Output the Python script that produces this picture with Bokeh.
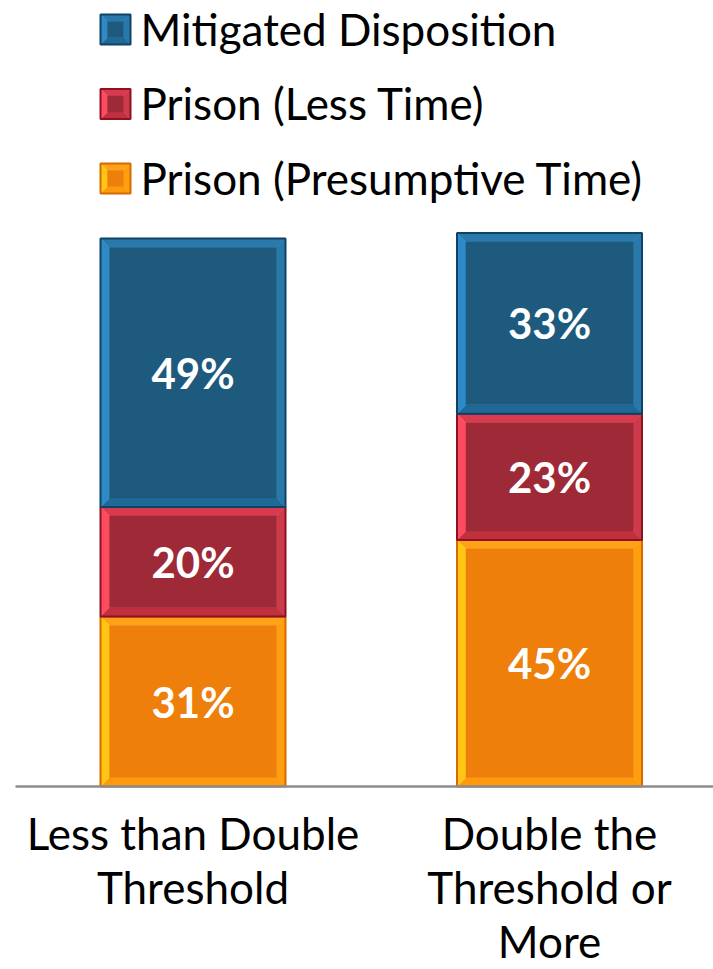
from bokeh.plotting import figure
from bokeh.models import Range1d
from bokeh.core.properties import value
from bokeh.embed import file_html
from bokeh.resources import INLINE

# ---- data -------------------------------------------------------------
categories = ["Less than Double\nThreshold", "Double the\nThreshold or\nMore"]
presumptive = [31, 45]   # Prison (Presumptive Time)
less_time = [20, 23]     # Prison (Less Time)
mitigated = [49, 33]     # Mitigated Disposition

series_names = ["Prison (Presumptive Time)", "Prison (Less Time)", "Mitigated Disposition"]
series_values = [presumptive, less_time, mitigated]   # stacked bottom -> top

# bevelled fill styles per series
styles = {
    "Mitigated Disposition": dict(border="#0f4267", left="#2e8ac6", top="#2a79ac",
                                  right="#2878a9", bottom="#1f6898", face="#1d5a7e"),
    "Prison (Less Time)": dict(border="#8c1222", left="#ff4b5f", top="#d93a4d",
                               right="#cd3a4b", bottom="#c0303f", face="#9e2a37"),
    "Prison (Presumptive Time)": dict(border="#d66a00", left="#ffc614", top="#ffa21a",
                                      right="#ff9f10", bottom="#ff9a0c", face="#ee7f0b"),
}

# ---- layout (canvas pixels) ---------------------------------------------
W, H = 713, 969
BASE_PX = 786              # canvas row of the baseline
PX_PER_PCT = 5.48          # vertical pixels per percentage point
UNIT = 356.5               # pixels between category centres
X0 = 192.5                 # canvas pixel of the first category centre
BAR_PX = 185
INSET_PX = 9
FONT = "Lato"

x_start, x_end = -X0 / UNIT, (W - X0) / UNIT
y_start, y_end = -(H - BASE_PX) / PX_PER_PCT, BASE_PX / PX_PER_PCT


def cx(px):
    return (px - X0) / UNIT


def cy(py):
    return (BASE_PX - py) / PX_PER_PCT


p = figure(width=W, height=H, output_backend="svg", toolbar_location=None,
           x_range=Range1d(x_start, x_end), y_range=Range1d(y_start, y_end),
           min_border=0)
p.outline_line_color = None
p.grid.grid_line_color = None
p.axis.visible = False
p.background_fill_color = "white"
p.border_fill_color = "white"


def bevel_box(l, r, b, t, dx, dy, st):
    pieces = {
        "top": ([l, r, r - dx, l + dx], [t, t, t - dy, t - dy]),
        "right": ([r, r, r - dx, r - dx], [t, b, b + dy, t - dy]),
        "bottom": ([l, r, r - dx, l + dx], [b, b, b + dy, b + dy]),
        "left": ([l, l, l + dx, l + dx], [t, b, b + dy, t - dy]),
    }
    for key, (xs, ys) in pieces.items():
        p.patch(xs, ys, fill_color=st[key], line_color=st[key], line_width=0.5)
    p.quad(left=l + dx, right=r - dx, bottom=b + dy, top=t - dy,
           fill_color=st["face"], line_color=st["face"], line_width=0.5)
    p.quad(left=l, right=r, bottom=b, top=t, fill_color=None,
           line_color=st["border"], line_width=2)


# ---- stacked bars -----------------------------------------------------
bw = BAR_PX / UNIT
dx, dy = INSET_PX / UNIT, INSET_PX / PX_PER_PCT
base = [0] * len(categories)
for name, vals in zip(series_names, series_values):
    st = styles[name]
    for i, v in enumerate(vals):
        b, t = base[i], base[i] + v
        bevel_box(i - bw / 2, i + bw / 2, b, t, dx, dy, st)
    xs = list(range(len(categories)))
    ys = [base[i] + vals[i] / 2 for i in xs]
    p.text(x=xs, y=ys, text=[f"{v}%" for v in vals], text_color="white",
           text_font=value(FONT), text_font_style="bold", text_font_size="42px",
           text_align="center", text_baseline="middle")
    base = [base[i] + vals[i] for i in range(len(categories))]

# ---- baseline ---------------------------------------------------------
p.segment(x0=[cx(15)], y0=[0], x1=[x_end], y1=[0], line_color="#8c8c8c", line_width=2.5)

# ---- category labels --------------------------------------------------
LINE_PX = 54
for i, cat in enumerate(categories):
    for j, line in enumerate(cat.split("\n")):
        p.text(x=[i], y=[cy(832 + LINE_PX * j)], text=[line], text_color="black",
               text_font=value(FONT), text_font_size="44px",
               text_align="center", text_baseline="middle")

# ---- legend (top -> bottom) -------------------------------------------
SQ = 30
for k, name in enumerate(reversed(series_names)):
    st = styles[name]
    top_px = 14 + 74.5 * k
    l, r = cx(100), cx(100 + SQ)
    t, b = cy(top_px), cy(top_px + SQ)
    bevel_box(l, r, b, t, 7 / UNIT, 7 / PX_PER_PCT, st)
    p.text(x=[cx(140)], y=[cy(top_px + SQ / 2 - 1)], text=[name],
           text_color="black", text_font=value(FONT), text_font_size="44px",
           text_align="left", text_baseline="middle")

open("out.html", "w").write(file_html(p, INLINE))
